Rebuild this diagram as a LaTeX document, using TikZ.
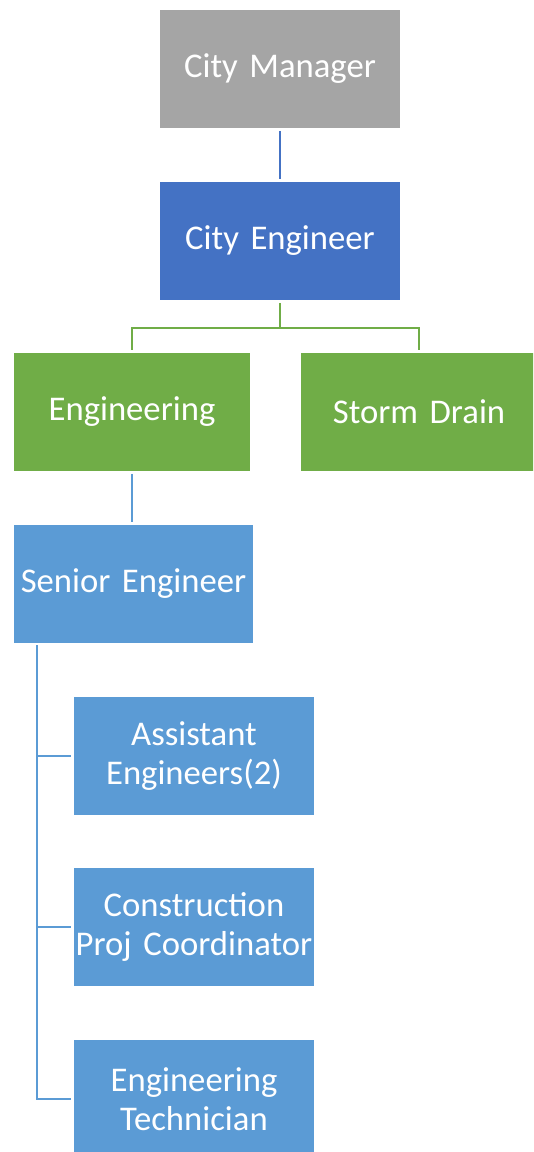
\documentclass[tikz,border=0pt]{standalone}
\usepackage{fontspec}
\setmainfont{Carlito}
\definecolor{mgray}{HTML}{A5A5A5}
\definecolor{mblue}{HTML}{4472C4}
\definecolor{mgreen}{HTML}{70AD47}
\definecolor{lblue}{HTML}{5B9BD5}
\begin{document}
\begin{tikzpicture}[x=0.75pt,y=-0.75pt,
  box/.style={rectangle, inner sep=0pt, text=white, align=center,
    font=\fontsize{26}{29.5}\selectfont, minimum height=88.5pt},
  wbox/.style={box, minimum width=180pt, text width=180pt},
  nbox/.style={box, minimum width=177pt, text width=177pt},
  link/.style={line width=1.6pt}]
\useasboundingbox (0,0) rectangle (533,1152);
\clip (0,0) rectangle (533,1152);

% boxes
\node[wbox, fill=mgray]  (cm) at (280,69)   {City Manager};
\node[wbox, fill=mblue]  (ce) at (280,241)  {City Engineer};
\node[nbox, fill=mgreen] (eng) at (132,412) {Engineering};
\node[nbox, fill=mgreen] (sd) at (419,412)  {Storm Drain};
\node[box, fill=lblue, minimum width=179pt, text width=179pt] (se) at (133.5,584) {Senior Engineer};
\node[wbox, fill=lblue]  (ae) at (194,756)  {Assistant\\Engineers(2)};
\node[wbox, fill=lblue]  (cp) at (194,927)  {Construction\\Proj Coordinator};
\node[wbox, fill=lblue]  (et) at (194,1099) {Engineering\\Technician};

% connectors
\draw[link, mblue] ([yshift=-2pt]cm.south) -- ([yshift=2pt]ce.north);
\draw[link, mgreen] ([yshift=-2pt]ce.south) -- ++(0,25) coordinate (gj) -| ([yshift=2pt]eng.north);
\draw[link, mgreen] (gj) -| ([yshift=2pt]sd.north);
\draw[link, lblue] ([yshift=-2pt]eng.south) -- ([yshift=2pt]eng.south |- se.north);
\coordinate (spine) at (37,645);
\draw[link, lblue] (spine) |- ([xshift=-2pt]ae.west);
\draw[link, lblue] (spine) |- ([xshift=-2pt]cp.west);
\draw[link, lblue] (spine) |- ([xshift=-2pt]et.west);
\end{tikzpicture}
\end{document}
